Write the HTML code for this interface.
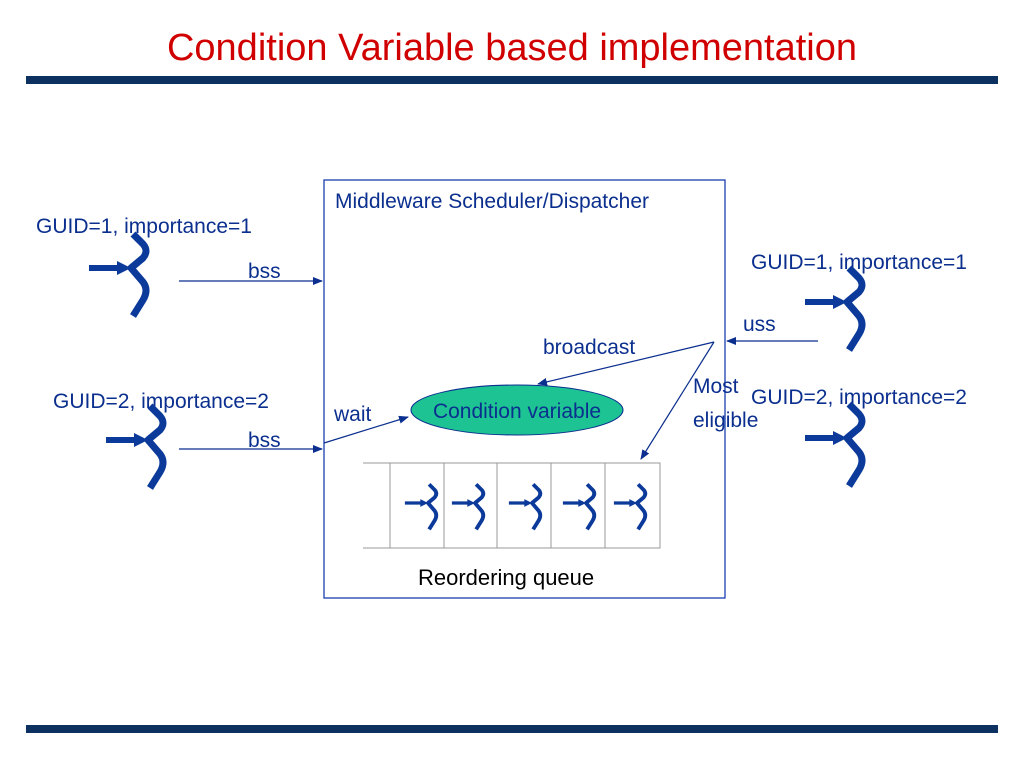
<!DOCTYPE html>
<html><head><meta charset="utf-8"><style>
body{margin:0;width:1024px;height:768px;background:#fff;overflow:hidden}
text{font-family:"Liberation Sans",Arial,sans-serif}
</style></head><body>
<svg width="1024" height="768" xmlns="http://www.w3.org/2000/svg">
<defs>
<marker id="a" markerWidth="10" markerHeight="8" refX="9" refY="4" orient="auto" markerUnits="userSpaceOnUse"><path d="M0,0 L10,4 L0,8 Z" fill="#0b2f8e"/></marker>
<g id="t"><path d="M-42,0 H-6" stroke="#0b3a9a" stroke-width="6"/><path d="M-14,-7 L0,0 L-14,7Z" fill="#0b3a9a"/><path d="M2,-34 L12,-24 Q18,-17 12,-10 L0,0 L12,14 Q18,22 12,32 L2,48" fill="none" stroke="#0b3a9a" stroke-width="7" stroke-linejoin="round"/></g>
</defs>
<text x="512" y="60" text-anchor="middle" font-size="38" fill="#d00000">Condition Variable based implementation</text>
<rect x="26" y="76" width="972" height="8" fill="#0c3060"/>
<rect x="26" y="725" width="972" height="8" fill="#0c3060"/>
<rect x="324" y="180" width="401" height="418" fill="none" stroke="#1a3fb0" stroke-width="1.3"/>
<g fill="#0b2f8e" font-size="21">
<text x="335" y="208">Middleware Scheduler/Dispatcher</text>
<text x="36" y="233">GUID=1, importance=1</text>
<text x="53" y="408">GUID=2, importance=2</text>
<text x="248" y="278">bss</text>
<text x="248" y="447">bss</text>
<text x="334" y="421">wait</text>
<text x="543" y="354">broadcast</text>
<text x="743" y="331">uss</text>
<text x="751" y="269">GUID=1, importance=1</text>
<text x="751" y="404">GUID=2, importance=2</text>
<text x="693" y="393">Most</text>
<text x="693" y="427">eligible</text>
<text x="418" y="585" fill="#000" font-size="22">Reordering queue</text>
</g>
<g stroke="#0b2f8e" stroke-width="1.2" fill="none">
<line x1="179" y1="281" x2="322" y2="281" marker-end="url(#a)"/>
<line x1="179" y1="449" x2="322" y2="449" marker-end="url(#a)"/>
<line x1="324" y1="443" x2="408" y2="417" marker-end="url(#a)"/>
<line x1="818" y1="341" x2="727" y2="341" marker-end="url(#a)"/>
<line x1="714" y1="342" x2="538" y2="384" marker-end="url(#a)"/>
<line x1="714" y1="342" x2="641" y2="459" marker-end="url(#a)"/>
</g>
<ellipse cx="517" cy="410" rx="106" ry="25" fill="#1ec394" stroke="#0b2f8e" stroke-width="1"/>
<text x="517" y="418" text-anchor="middle" font-size="21" fill="#0b2f8e">Condition variable</text>
<g stroke="#999" stroke-width="1" fill="none">
<path d="M363,463 H660 V548 H363"/>
<line x1="390" y1="463" x2="390" y2="548"/><line x1="444" y1="463" x2="444" y2="548"/>
<line x1="497" y1="463" x2="497" y2="548"/><line x1="551" y1="463" x2="551" y2="548"/>
<line x1="605" y1="463" x2="605" y2="548"/>
</g>
<use href="#t" transform="translate(131,268)"/>
<use href="#t" transform="translate(148,440)"/>
<use href="#t" transform="translate(847,302)"/>
<use href="#t" transform="translate(847,438)"/>
<use href="#t" transform="translate(428,503) scale(0.55)"/>
<use href="#t" transform="translate(475,503) scale(0.55)"/>
<use href="#t" transform="translate(532,503) scale(0.55)"/>
<use href="#t" transform="translate(586,503) scale(0.55)"/>
<use href="#t" transform="translate(637,503) scale(0.55)"/>
</svg>
</body></html>
